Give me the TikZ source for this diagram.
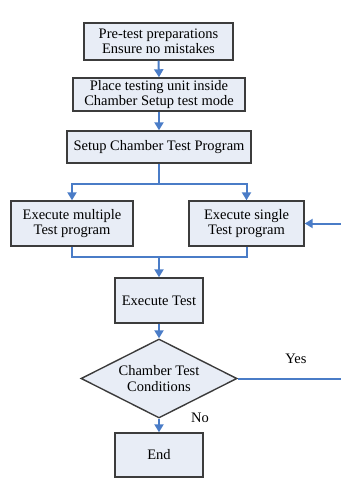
\documentclass[tikz,border=0pt]{standalone}
\usepackage{fontspec}
\setmainfont{Liberation Serif}
\usetikzlibrary{arrows.meta,shapes.geometric}
\definecolor{boxfill}{HTML}{E8EDF6}
\definecolor{boxline}{HTML}{3C3C3C}
\definecolor{flow}{HTML}{4A7CC7}
\tikzset{
  stepbox/.style={draw=boxline,line width=1.4pt,fill=boxfill,align=center,inner sep=0pt,
    font=\fontsize{14.5}{15.5}\selectfont},
  decbox/.style={stepbox,shape=diamond,aspect=2},
  flowline/.style={draw=flow,line width=2pt},
  flowarrow/.style={flowline,-{Triangle[width=9pt,length=8pt]}},
  lbl/.style={font=\fontsize{14.5}{15.5}\selectfont,inner sep=0pt}
}
\begin{document}
\begin{tikzpicture}[x=1pt,y=-1pt]
\useasboundingbox (0,0) rectangle (340,479);
\node[stepbox,minimum width=149pt,minimum height=37pt] (b1) at (158.5,41.5) {Pre-test preparations\\Ensure no mistakes};
\node[stepbox,minimum width=172pt,minimum height=33pt] (b2) at (159,94.5) {Place testing unit inside\\Chamber Setup test mode};
\node[stepbox,minimum width=184pt,minimum height=32pt] (b3) at (159,147) {Setup Chamber Test Program};
\node[stepbox,minimum width=122pt,minimum height=45pt] (multi) at (72,223.5) {Execute multiple\\Test program};
\node[stepbox,minimum width=115pt,minimum height=45pt] (single) at (246.5,223.5) {Execute single\\Test program};
\node[stepbox,minimum width=88pt,minimum height=45pt] (exec) at (159,300.5) {Execute Test};
\node[decbox,minimum width=156pt,minimum height=79pt] (cond) at (159,378.5) {Chamber Test\\Conditions};
\node[stepbox,minimum width=88pt,minimum height=44pt] (end) at (159,455) {End};
\node[lbl] (yes) at (296,359) {Yes};
\node[lbl] (no) at (200,418) {No};
\coordinate (split) at (159,184);
\coordinate (merge) at (159,257);
\coordinate (loop) at (346,378.5);
\draw[flowarrow] (b1.south) -- (b2.north);
\draw[flowarrow] (b2.south) -- (b3.north);
\draw[flowline] (b3.south) -- (split);
\draw[flowarrow] (split) -| (multi.north);
\draw[flowarrow] (split) -| (single.north);
\draw[flowline] (multi.south) |- (merge);
\draw[flowline] (single.south) |- (merge);
\draw[flowarrow] (merge) -- (exec.north);
\draw[flowarrow] (exec.south) -- (cond.north);
\draw[flowarrow] (cond.south) -- (end.north);
\draw[flowarrow] (cond.east) -- (loop) |- (single.east);
\end{tikzpicture}
\end{document}
